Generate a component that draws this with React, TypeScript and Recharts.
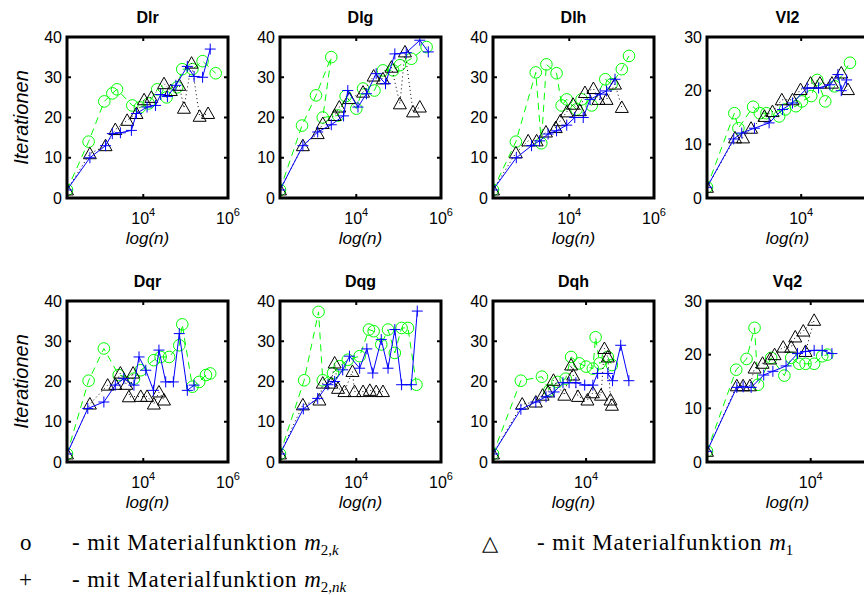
import { Scatter, ScatterChart, XAxis, YAxis } from 'recharts';

type Pt = [number, number];

// x = log10(n), y = Iterationen
const DLR_M2K: Pt[] = [[2.2, 2], [2.71, 14], [3.08, 24], [3.27, 26], [3.38, 27], [3.74, 23], [3.92, 22.5], [4.13, 23.5], [4.33, 27], [4.55, 25], [4.8, 27.5], [4.92, 32], [5.16, 32], [5.4, 34], [5.71, 31]];
const DLR_M1: Pt[] = [[2.2, 2], [2.74, 11], [3.11, 13], [3.34, 17], [3.62, 19.3], [3.84, 21], [4.02, 24.4], [4.19, 25], [4.49, 28.4], [4.65, 26.7], [4.85, 28], [4.96, 22.3], [5.14, 33.5], [5.33, 20.3], [5.53, 21]];
const DLR_M2NK: Pt[] = [[2.2, 2], [2.74, 10], [3.11, 13], [3.27, 16], [3.46, 16.2], [3.72, 16.8], [3.84, 21], [4.09, 22.6], [4.29, 23], [4.41, 25.7], [4.57, 25.2], [4.77, 28], [5.04, 32.7], [5.2, 30.2], [5.4, 30], [5.58, 37]];

const DLG_M2K: Pt[] = [[2.2, 2], [2.72, 18], [3.05, 25.5], [3.41, 35], [3.21, 20], [3.57, 20.5], [3.75, 25.3], [4.0, 22.2], [4.16, 27.2], [4.43, 26.7], [4.63, 31.7], [4.87, 31.7], [5.03, 33], [5.3, 34.6], [5.66, 37.5]];
const DLG_M1: Pt[] = [[2.2, 2], [2.74, 13], [3.09, 16], [3.21, 18.5], [3.49, 20.5], [3.6, 22.6], [3.84, 24.7], [4.16, 26.3], [4.41, 30.3], [4.63, 29.6], [4.83, 32.5], [5.03, 23.4], [5.15, 36.3], [5.34, 21.4], [5.5, 22.6]];
const DLG_M2NK: Pt[] = [[2.2, 2], [2.74, 13], [3.09, 16.4], [3.41, 18.2], [3.7, 20.4], [3.8, 26.7], [4.04, 22.6], [4.24, 25.9], [4.47, 30.9], [4.69, 28.4], [4.91, 35.8], [5.18, 36.1], [5.5, 39.2], [5.7, 36.3]];

const DLH_M2K: Pt[] = [[2.2, 2], [2.74, 14], [3.21, 31.2], [3.34, 13.6], [3.46, 33.2], [3.7, 31], [3.82, 23], [3.94, 24.5], [4.17, 22], [4.29, 24.5], [4.53, 23], [4.85, 29.5], [5.0, 28.3], [5.24, 32], [5.41, 35.3]];
const DLH_M1: Pt[] = [[2.2, 2], [2.74, 11.2], [3.03, 14.2], [3.23, 14.2], [3.45, 16.4], [3.68, 17.5], [3.79, 19.2], [3.94, 21.4], [4.09, 23.3], [4.25, 21.7], [4.37, 26.2], [4.57, 27.2], [4.69, 24.5], [4.88, 24.5], [5.08, 28.3], [5.24, 22.5]];
const DLH_M2NK: Pt[] = [[2.2, 2], [2.75, 10], [3.11, 13], [3.3, 14.2], [3.5, 15.9], [3.7, 16.7], [3.94, 18.1], [4.13, 20], [4.33, 20], [4.49, 24.5], [4.73, 25.8], [4.88, 26.6], [5.08, 29.5]];

const VL2_M2K: Pt[] = [[2.59, 2], [3.0, 15.8], [3.06, 13], [3.28, 17], [3.38, 15.8], [3.48, 15.8], [3.67, 15.2], [3.76, 16.5], [3.92, 17.1], [4.01, 18], [4.15, 19], [4.24, 22], [4.36, 18], [4.5, 20.8], [4.73, 25.2]];
const VL2_M1: Pt[] = [[2.59, 2], [3.01, 11.2], [3.13, 11.2], [3.25, 13], [3.45, 15.2], [3.57, 16.1], [3.71, 18.3], [3.87, 18.3], [3.99, 20.2], [4.14, 21.4], [4.28, 21.4], [4.46, 21.4], [4.6, 23.3], [4.7, 20.2]];
const VL2_M2NK: Pt[] = [[2.59, 2], [2.99, 11], [3.11, 12.1], [3.3, 13], [3.52, 14], [3.72, 16.5], [3.87, 17.7], [4.09, 20.5], [4.26, 20.5], [4.43, 21.1], [4.55, 23], [4.6, 20], [4.68, 22]];

const DQR_M2K: Pt[] = [[2.2, 2], [2.71, 20.2], [3.07, 28.2], [3.42, 21.6], [3.78, 20.7], [3.94, 22.8], [4.25, 25.3], [4.41, 26.1], [4.61, 26.1], [4.85, 29], [4.92, 34.2], [5.16, 18.7], [5.32, 19.9], [5.48, 21.6], [5.58, 22]];
const DQR_M1: Pt[] = [[2.2, 2], [2.74, 14.4], [3.16, 19.1], [3.34, 19.3], [3.46, 22.1], [3.6, 19.3], [3.76, 22.1], [3.66, 16.2], [3.94, 16.3], [4.09, 16.3], [4.25, 14.4], [4.37, 17.4], [4.49, 15.4]];
const DQR_M2NK: Pt[] = [[2.2, 2], [2.69, 13.3], [3.07, 14.9], [3.34, 19.1], [3.54, 20.7], [3.78, 19.1], [3.9, 26.1], [4.06, 22.8], [4.24, 17.8], [4.37, 27.8], [4.53, 19.9], [4.71, 19.9], [4.85, 31.9], [5.04, 17.8], [5.2, 19.1]];

const DQG_M2K: Pt[] = [[2.2, 2], [2.77, 20.3], [3.11, 37.3], [3.21, 20.3], [3.45, 22.1], [3.61, 23.8], [3.8, 25.4], [4.08, 26.3], [4.3, 32.9], [4.41, 32.5], [4.59, 29.2], [4.75, 32.9], [4.91, 27.1], [5.07, 33.3], [5.22, 33.3], [5.42, 19.2]];
const DQG_M1: Pt[] = [[2.2, 2], [2.74, 14.2], [3.13, 15.4], [3.21, 19.6], [3.41, 19.6], [3.49, 24.6], [3.57, 18.3], [3.72, 17.5], [3.91, 22.5], [3.96, 17.5], [4.16, 17.5], [4.32, 17.8], [4.47, 17.5], [4.63, 17.5]];
const DQG_M2NK: Pt[] = [[2.2, 2], [2.75, 13.2], [3.09, 15.8], [3.33, 19.2], [3.49, 20], [3.68, 22.9], [3.84, 26.3], [4.08, 23.3], [4.25, 28.1], [4.39, 22.1], [4.59, 30.4], [4.75, 23.3], [4.91, 32.9], [5.07, 19.2], [5.3, 19.2], [5.44, 37.5]];

const DQH_M2K: Pt[] = [[2.63, 2], [3.04, 20.2], [3.35, 21.2], [3.46, 17.8], [3.58, 19.9], [3.7, 20.7], [3.78, 26.1], [3.9, 24.5], [4.0, 23.7], [4.1, 23.2], [4.14, 31], [4.2, 24.5], [4.32, 26.1], [4.38, 24.1]];
const DQH_M1: Pt[] = [[2.63, 2], [3.06, 14.4], [3.26, 14.9], [3.36, 16.6], [3.44, 17.4], [3.52, 20.3], [3.68, 16.6], [3.78, 24.1], [3.81, 21.6], [3.88, 16.3], [4.02, 15.4], [4.1, 17.2], [4.22, 16.6], [4.27, 28.2], [4.32, 26.1], [4.36, 15.4], [4.38, 14.1]];
const DQH_M2NK: Pt[] = [[2.63, 2], [3.04, 13.1], [3.26, 14.9], [3.41, 16.2], [3.53, 17.4], [3.66, 19.7], [3.75, 19.7], [3.85, 19.7], [3.98, 19.1], [4.1, 19.1], [4.17, 22], [4.32, 22], [4.39, 20.2], [4.51, 29], [4.63, 20.2]];

const VQ2_M2K: Pt[] = [[2.19, 2], [2.7, 17.2], [2.88, 19.2], [3.02, 25], [3.08, 14.4], [3.31, 19.4], [3.54, 16.1], [3.66, 19.4], [3.8, 18.3], [3.91, 18.3], [4.06, 18.3], [4.2, 19.7], [4.29, 20]];
const VQ2_M1: Pt[] = [[2.19, 2], [2.71, 14.2], [2.82, 14.2], [2.94, 14.2], [3.02, 17.5], [3.16, 18.4], [3.29, 19.2], [3.37, 20], [3.52, 21.4], [3.66, 21.4], [3.73, 23.3], [3.87, 24.4], [4.06, 26.4], [3.91, 20.6]];
const VQ2_M2NK: Pt[] = [[2.19, 2], [2.71, 13.9], [2.82, 14], [2.96, 13.9], [3.18, 16.2], [3.34, 16.9], [3.57, 17.9], [3.77, 20.2], [3.91, 20.6], [4.06, 20.8], [4.2, 20.8], [4.37, 20.2]];

const Y_TICKS_40 = [0, 10, 20, 30, 40];
const Y_TICKS_30 = [0, 10, 20, 30];
const X_TICKS_WIDE = [4, 6];
const X_TICKS_NARROW = [4];

const BOX = 161;
const Y_AXIS_W = 50;
const TOP_PAD = 30;
const RIGHT_PAD = 26;
const X_AXIS_H = 62;
const SANS = '"Liberation Sans", Arial, sans-serif';
const SERIF = '"Liberation Serif", "Times New Roman", serif';
const GREEN = '#00ff00';
const BLUE = '#0000ff';

const rows = (pts: Pt[]) => pts.map(([x, y]) => ({ x, y }));

function CircleMark({ cx, cy }: any) {
  return <circle cx={cx} cy={cy} r={5.8} fill="none" stroke={GREEN} strokeWidth={1} />;
}

function TriangleMark({ cx, cy }: any) {
  return (
    <polygon
      points={`${cx},${cy - 6.5} ${cx - 6.5},${cy + 5} ${cx + 6.5},${cy + 5}`}
      fill="none"
      stroke="#000"
      strokeWidth={1}
    />
  );
}

function PlusMark({ cx, cy }: any) {
  return (
    <g stroke={BLUE} strokeWidth={1}>
      <line x1={cx - 5.5} x2={cx + 5.5} y1={cy} y2={cy} />
      <line x1={cx} x2={cx} y1={cy - 5.5} y2={cy + 5.5} />
    </g>
  );
}

function XTick({ x, y, payload }: any) {
  return (
    <g>
      <line x1={x} x2={x} y1={y} y2={y - 4} stroke="#000" strokeWidth={2} />
      <line x1={x} x2={x} y1={y - BOX} y2={y - BOX + 4} stroke="#000" strokeWidth={2} />
      <text x={x} y={y + 26} textAnchor="middle" fontSize={16} fontFamily={SANS} fill="#000">
        10<tspan dy={-8} fontSize={11}>{payload.value}</tspan>
      </text>
    </g>
  );
}

function YTick({ x, y, payload }: any) {
  return (
    <g>
      <line x1={x} x2={x + 4} y1={y} y2={y} stroke="#000" strokeWidth={2} />
      <line x1={x + BOX} x2={x + BOX - 4} y1={y} y2={y} stroke="#000" strokeWidth={2} />
      <text x={x - 5} y={y + 5.5} textAnchor="end" fontSize={16} fontFamily={SANS} fill="#000">
        {payload.value}
      </text>
    </g>
  );
}

type PanelProps = {
  left: number;
  top: number;
  xDomain: [number, number];
  xTicks: number[];
  yTicks: number[];
  m2k: Pt[];
  m1: Pt[];
  m2nk: Pt[];
};

function Panel({ left, top, xDomain, xTicks, yTicks, m2k, m1, m2nk }: PanelProps) {
  const yMax = yTicks[yTicks.length - 1];
  return (
    <div style={{ position: 'absolute', left: left - Y_AXIS_W, top: top - TOP_PAD }}>
      <ScatterChart
        width={Y_AXIS_W + BOX + RIGHT_PAD}
        height={TOP_PAD + BOX + X_AXIS_H}
        margin={{ top: TOP_PAD, right: RIGHT_PAD, bottom: 0, left: 0 }}
      >
        <XAxis
          type="number"
          dataKey="x"
          domain={xDomain}
          ticks={xTicks}
          interval={0}
          allowDataOverflow
          height={X_AXIS_H}
          axisLine={false}
          tickLine={false}
          tickSize={0}
          tickMargin={0}
          tick={<XTick />}
        />
        <YAxis
          type="number"
          dataKey="y"
          domain={[0, yMax]}
          ticks={yTicks}
          interval={0}
          allowDataOverflow
          width={Y_AXIS_W}
          axisLine={false}
          tickLine={false}
          tickSize={0}
          tickMargin={0}
          tick={<YTick />}
        />
        <Scatter
          data={rows(m2k)}
          isAnimationActive={false}
          line={{ stroke: GREEN, strokeWidth: 1, strokeDasharray: '7 5' }}
          shape={(p: any) => <CircleMark {...p} />}
        />
        <Scatter
          data={rows(m1)}
          isAnimationActive={false}
          line={{ stroke: '#000', strokeWidth: 1, strokeDasharray: '1 3' }}
          shape={(p: any) => <TriangleMark {...p} />}
        />
        <Scatter
          data={rows(m2nk)}
          isAnimationActive={false}
          line={{ stroke: BLUE, strokeWidth: 1 }}
          shape={(p: any) => <PlusMark {...p} />}
        />
      </ScatterChart>
    </div>
  );
}

const COLS = [67, 280, 493, 707];
const ROWS = [37, 301];

const PANELS = [
  { title: 'Dlr', col: 0, row: 0, xDomain: [2.2, 6] as [number, number], xTicks: X_TICKS_WIDE, yTicks: Y_TICKS_40, m2k: DLR_M2K, m1: DLR_M1, m2nk: DLR_M2NK },
  { title: 'Dlg', col: 1, row: 0, xDomain: [2.2, 6] as [number, number], xTicks: X_TICKS_WIDE, yTicks: Y_TICKS_40, m2k: DLG_M2K, m1: DLG_M1, m2nk: DLG_M2NK },
  { title: 'Dlh', col: 2, row: 0, xDomain: [2.2, 6] as [number, number], xTicks: X_TICKS_WIDE, yTicks: Y_TICKS_40, m2k: DLH_M2K, m1: DLH_M1, m2nk: DLH_M2NK },
  { title: 'Vl2', col: 3, row: 0, xDomain: [2.59, 5] as [number, number], xTicks: X_TICKS_NARROW, yTicks: Y_TICKS_30, m2k: VL2_M2K, m1: VL2_M1, m2nk: VL2_M2NK },
  { title: 'Dqr', col: 0, row: 1, xDomain: [2.2, 6] as [number, number], xTicks: X_TICKS_WIDE, yTicks: Y_TICKS_40, m2k: DQR_M2K, m1: DQR_M1, m2nk: DQR_M2NK },
  { title: 'Dqg', col: 1, row: 1, xDomain: [2.2, 6] as [number, number], xTicks: X_TICKS_WIDE, yTicks: Y_TICKS_40, m2k: DQG_M2K, m1: DQG_M1, m2nk: DQG_M2NK },
  { title: 'Dqh', col: 2, row: 1, xDomain: [2.63, 5] as [number, number], xTicks: X_TICKS_NARROW, yTicks: Y_TICKS_40, m2k: DQH_M2K, m1: DQH_M1, m2nk: DQH_M2NK },
  { title: 'Vq2', col: 3, row: 1, xDomain: [2.19, 5] as [number, number], xTicks: X_TICKS_NARROW, yTicks: Y_TICKS_30, m2k: VQ2_M2K, m1: VQ2_M1, m2nk: VQ2_M2NK },
];

const LEGEND_TEXT = '- mit Materialfunktion ';

export default function App() {
  return (
    <div
      style={{
        position: 'absolute',
        left: 0,
        top: 0,
        width: 864,
        height: 595,
        overflow: 'hidden',
        background: '#fff',
      }}
    >
      {PANELS.map((p) => (
        <Panel
          key={p.title}
          left={COLS[p.col]}
          top={ROWS[p.row]}
          xDomain={p.xDomain}
          xTicks={p.xTicks}
          yTicks={p.yTicks}
          m2k={p.m2k}
          m1={p.m1}
          m2nk={p.m2nk}
        />
      ))}
      <svg
        width={864}
        height={595}
        style={{ position: 'absolute', left: 0, top: 0, pointerEvents: 'none' }}
      >
        {PANELS.map((p) => {
          const left = COLS[p.col];
          const top = ROWS[p.row];
          const cx = left + BOX / 2;
          return (
            <g key={p.title}>
              {/* axes box drawn above the markers */}
              <rect x={left} y={top} width={BOX} height={BOX} fill="none" stroke="#000" strokeWidth={3} />
              <text x={cx} y={top - 14} textAnchor="middle" fontSize={16} fontWeight="bold" fontFamily={SANS}>
                {p.title}
              </text>
              <text x={cx} y={top + BOX + 46} textAnchor="middle" fontSize={17} fontStyle="italic" fontFamily={SANS}>
                log(n)
              </text>
            </g>
          );
        })}
        {ROWS.map((top) => (
          <text
            key={top}
            transform={`translate(28, ${top + BOX / 2}) rotate(-90)`}
            textAnchor="middle"
            fontSize={20}
            fontStyle="italic"
            fontFamily={SANS}
          >
            Iterationen
          </text>
        ))}
        <g fontFamily={SERIF} fontSize={23} fill="#000">
          <text x={20} y={550}>o</text>
          <text x={72} y={550} letterSpacing={0.9}>
            {LEGEND_TEXT}
            <tspan fontStyle="italic" letterSpacing={0}>m</tspan>
            <tspan dy={5} fontSize={15} letterSpacing={0}>2,</tspan>
            <tspan fontSize={15} fontStyle="italic" letterSpacing={0}>k</tspan>
          </text>
          <text x={482} y={550} fontFamily='"DejaVu Sans", sans-serif' fontSize={21}>△</text>
          <text x={537} y={550} letterSpacing={0.9}>
            {LEGEND_TEXT}
            <tspan fontStyle="italic" letterSpacing={0}>m</tspan>
            <tspan dy={5} fontSize={15} letterSpacing={0}>1</tspan>
          </text>
          <text x={19} y={587}>+</text>
          <text x={72} y={587} letterSpacing={0.9}>
            {LEGEND_TEXT}
            <tspan fontStyle="italic" letterSpacing={0}>m</tspan>
            <tspan dy={5} fontSize={15} letterSpacing={0}>2,</tspan>
            <tspan fontSize={15} fontStyle="italic" letterSpacing={0}>nk</tspan>
          </text>
        </g>
      </svg>
    </div>
  );
}
